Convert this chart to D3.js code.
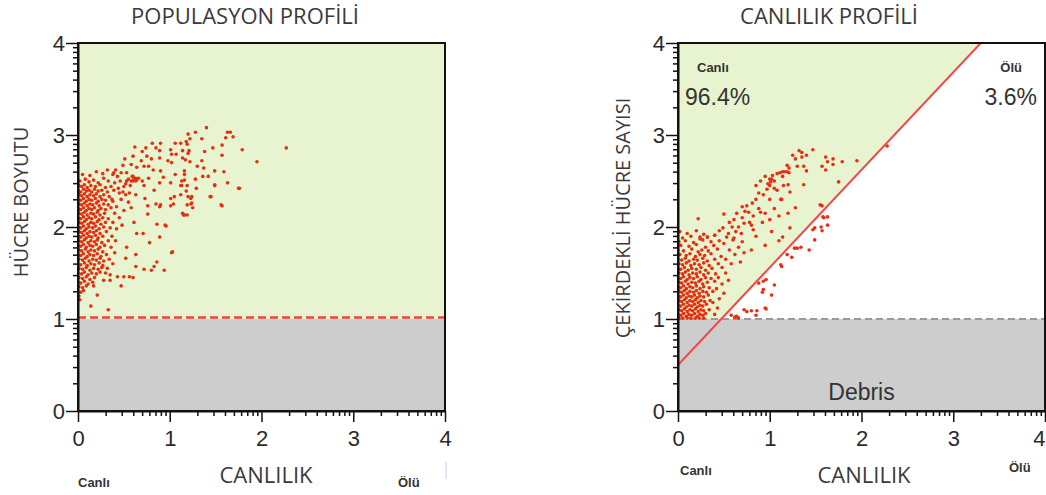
<!DOCTYPE html>
<html>
<head>
<meta charset="utf-8">
<script src="https://cdn.jsdelivr.net/npm/d3@7"></script>
<style>
  body { margin: 0; background: #fff; }
  svg text { font-family: "Liberation Sans", Arial, sans-serif; }
</style>
</head>
<body>
<svg id="chart" width="1046" height="495"></svg>
<script>
// ---- data ----
var tickVals = [0, 1, 2, 3, 4];
var minorSteps = [2, 3, 4, 5, 6, 7, 8, 9];   // log-decade minor ticks

var leftTitle = 'POPULASYON PROFİLİ';
var rightTitle = 'CANLILIK PROFİLİ';
var xLabel = 'CANLILIK';
var leftYLabel = 'HÜCRE BOYUTU';
var rightYLabel = 'ÇEKİRDEKLİ HÜCRE SAYISI';
var liveName = 'Canlı', deadName = 'Ölü';
var livePct = '96.4%', deadPct = '3.6%';
var debrisName = 'Debris';

var debrisCut = 1;                        // y gate (debris below)
var gateLine = [[0, 0.5], [3.3, 4]];      // live / dead gate

// left panel: dense core
var leftCore = [
  [0.05,2.57],[0.13,2.56],[0.20,2.60],[0.27,2.58],[0.32,2.62],[0.38,2.57],[0.43,2.55],
  [0.02,2.50],[0.08,2.52],[0.12,2.49],[0.17,2.51],[0.22,2.48],[0.28,2.53],[0.33,2.50],[0.40,2.48],[0.46,2.50],
  [0.01,2.45],[0.04,2.44],[0.07,2.46],[0.10,2.43],[0.14,2.45],[0.19,2.44],[0.24,2.46],[0.30,2.43],[0.36,2.44],
  [0.00,2.40],[0.03,2.38],[0.06,2.41],[0.09,2.39],[0.12,2.40],[0.15,2.38],[0.18,2.41],[0.22,2.39],[0.26,2.40],[0.32,2.38],[0.39,2.40],[0.45,2.37],
  [0.01,2.35],[0.04,2.34],[0.07,2.36],[0.10,2.33],[0.13,2.35],[0.17,2.34],[0.20,2.36],[0.24,2.33],[0.28,2.35],[0.34,2.33],
  [0.00,2.30],[0.03,2.29],[0.06,2.31],[0.09,2.28],[0.12,2.30],[0.15,2.29],[0.19,2.31],[0.22,2.28],[0.26,2.30],[0.30,2.29],[0.37,2.30],
  [0.01,2.25],[0.04,2.24],[0.07,2.26],[0.10,2.23],[0.13,2.25],[0.16,2.24],[0.20,2.26],[0.23,2.23],[0.28,2.25],[0.33,2.24],
  [0.00,2.20],[0.03,2.19],[0.06,2.21],[0.09,2.18],[0.12,2.20],[0.15,2.19],[0.18,2.21],[0.22,2.18],[0.25,2.20],[0.30,2.19],[0.36,2.21],
  [0.01,2.15],[0.04,2.14],[0.07,2.16],[0.10,2.13],[0.14,2.15],[0.17,2.14],[0.21,2.16],[0.24,2.13],[0.29,2.15],
  [0.00,2.10],[0.03,2.09],[0.06,2.11],[0.09,2.08],[0.12,2.10],[0.15,2.09],[0.19,2.11],[0.23,2.08],[0.27,2.10],[0.33,2.09],
  [0.01,2.05],[0.04,2.04],[0.07,2.06],[0.11,2.03],[0.14,2.05],[0.17,2.04],[0.21,2.06],[0.25,2.03],[0.30,2.05],
  [0.00,2.00],[0.03,1.99],[0.06,2.01],[0.09,1.98],[0.12,2.00],[0.16,1.99],[0.19,2.01],[0.23,1.98],[0.28,2.00],[0.35,1.99],
  [0.01,1.95],[0.04,1.94],[0.07,1.96],[0.10,1.93],[0.13,1.95],[0.17,1.94],[0.20,1.96],[0.24,1.93],[0.31,1.95],
  [0.00,1.90],[0.03,1.89],[0.06,1.91],[0.09,1.88],[0.12,1.90],[0.15,1.89],[0.19,1.91],[0.22,1.88],[0.27,1.90],
  [0.01,1.85],[0.04,1.84],[0.07,1.86],[0.11,1.83],[0.14,1.85],[0.18,1.84],[0.21,1.86],[0.26,1.83],[0.33,1.85],
  [0.00,1.80],[0.03,1.79],[0.06,1.81],[0.09,1.78],[0.13,1.80],[0.16,1.79],[0.20,1.81],[0.24,1.78],[0.29,1.80],
  [0.01,1.75],[0.04,1.74],[0.08,1.76],[0.11,1.73],[0.14,1.75],[0.18,1.74],[0.22,1.76],[0.27,1.73],
  [0.00,1.70],[0.03,1.69],[0.06,1.71],[0.10,1.68],[0.13,1.70],[0.17,1.69],[0.21,1.71],[0.25,1.68],[0.31,1.70],
  [0.01,1.65],[0.05,1.64],[0.08,1.66],[0.12,1.63],[0.16,1.65],[0.20,1.64],[0.24,1.66],[0.28,1.63],
  [0.00,1.60],[0.03,1.59],[0.07,1.61],[0.10,1.58],[0.14,1.60],[0.18,1.59],[0.23,1.61],[0.27,1.58],
  [0.01,1.55],[0.05,1.54],[0.09,1.56],[0.13,1.53],[0.17,1.55],[0.22,1.54],[0.26,1.56],
  [0.00,1.50],[0.04,1.49],[0.07,1.51],[0.11,1.48],[0.15,1.50],[0.20,1.49],[0.24,1.51],
  [0.01,1.45],[0.05,1.44],[0.09,1.46],[0.13,1.43],[0.18,1.45],
  [0.00,1.40],[0.03,1.39],[0.07,1.41],[0.11,1.38],[0.16,1.40],
  [0.01,1.35],[0.05,1.34],[0.09,1.36],
  [0.00,1.30],[0.03,1.29],[0.06,1.31],
  [0.01,1.25],[0.02,1.21]
];

// left panel: spread towards upper right
var leftSpread = [
  [1.40,3.08],[1.66,3.03],[1.69,2.98],[2.27,2.86],[1.95,2.71],[1.63,3.03],[1.61,2.97],[1.79,2.84],
  [1.57,2.89],[1.57,2.78],[1.47,2.86],[1.38,2.82],[1.35,2.96],[1.28,3.03],[1.20,3.01],[1.22,2.96],
  [1.18,2.93],[1.19,2.90],[1.21,2.83],[1.20,2.80],[1.14,2.75],[1.17,2.73],[1.22,2.71],[1.35,2.72],
  [1.30,2.66],[1.37,2.64],[1.49,2.61],[1.59,2.60],[1.16,2.57],[1.42,2.55],[1.28,2.52],[1.13,2.50],
  [1.63,2.48],[1.49,2.45],[1.13,2.45],[1.29,2.42],[1.76,2.42],[1.18,2.39],[1.45,2.33],[1.20,2.33],
  [1.23,2.25],[1.57,2.23],[1.25,2.21],[1.15,2.13],[1.19,2.13],
  [1.12,2.91],[1.06,2.91],[0.90,2.91],[0.81,2.91],[0.62,2.87],[0.74,2.86],[0.85,2.86],[1.01,2.84],
  [0.89,2.83],[0.70,2.82],[1.02,2.79],[1.07,2.79],[1.14,2.83],[0.60,2.77],[0.51,2.74],[0.75,2.77],
  [0.80,2.74],[0.89,2.75],[0.98,2.72],[1.02,2.70],[0.69,2.72],[0.58,2.68],[0.49,2.67],[0.64,2.65],
  [0.72,2.66],[0.77,2.66],[0.82,2.62],[0.41,2.62],[0.39,2.59],[0.47,2.59],[0.53,2.59],[0.59,2.55],
  [0.63,2.53],[0.60,2.50],[0.64,2.51],[0.70,2.50],[0.77,2.53],[0.90,2.61],[0.93,2.54],[1.06,2.57],
  [1.16,2.61],[1.16,2.51],[1.01,2.48],[1.12,2.45],[1.19,2.45],[1.05,2.33],[1.01,2.31],[0.72,2.45],
  [0.83,2.40],[0.89,2.48],[0.73,2.31],[0.76,2.23],[0.89,2.22],[1.01,2.23],[1.19,2.24],[1.23,2.31],
  [1.12,2.35],[0.58,2.21],[0.56,2.37],[0.63,2.35],[0.76,2.14],[0.85,2.25],[0.90,2.24],[1.04,2.25],
  [1.16,2.13],[0.86,2.03],[0.96,2.01],[0.61,2.05],[0.71,1.93],[0.64,1.93],[0.89,1.89],[0.78,1.83],
  [1.02,1.72],[0.53,1.78],[0.63,1.70],[0.52,1.66],[0.63,1.57],[0.86,1.62],[0.72,1.54],[0.80,1.53],
  [0.83,1.57],[0.94,1.53],[0.43,1.46],[0.50,1.46],[0.56,1.46],[0.60,1.45],[0.35,1.42],[0.28,1.42],
  [0.47,1.36],[0.17,1.36],[0.21,1.26],[0.14,1.14],[0.33,1.10],[1.03,1.73],[0.95,2.02],[1.14,2.15],
  [1.56,2.24],[1.44,2.33],[1.75,2.42],[1.49,2.46],[1.36,2.55],[1.24,2.26],[1.24,2.33],
  [0.38,2.28],[0.42,2.22],[0.47,2.30],[0.40,2.15],[0.45,2.10],[0.50,2.18],[0.38,2.05],[0.42,1.98],
  [0.48,2.02],[0.37,1.90],[0.41,1.85],[0.36,1.78],[0.40,1.72],[0.34,1.65],[0.38,1.60],[0.32,1.55],
  [0.30,1.50],[0.35,1.48],[0.52,2.35],[0.55,2.27],[0.44,2.42],[0.50,2.44],[0.53,2.50],[0.57,2.45],
  [0.49,2.38],[0.55,2.52],[0.58,2.50],[0.61,2.52],[0.60,2.55],[0.63,2.50],[0.66,2.53],[0.52,2.47]
];

// right panel: live cells (left of the gate)
var rightCore = [
  [0.02,1.95],[0.10,1.93],[0.20,1.96],[0.28,1.92],
  [0.05,1.88],[0.14,1.90],[0.24,1.87],[0.32,1.89],[0.40,1.91],
  [0.01,1.84],[0.08,1.85],[0.17,1.83],[0.27,1.86],[0.36,1.84],[0.45,1.85],
  [0.03,1.80],[0.12,1.79],[0.20,1.81],[0.30,1.78],[0.39,1.80],
  [0.00,1.75],[0.06,1.74],[0.15,1.76],[0.22,1.73],[0.26,1.75],[0.33,1.74],[0.43,1.76],
  [0.02,1.70],[0.09,1.69],[0.13,1.71],[0.19,1.68],[0.24,1.70],[0.29,1.69],[0.36,1.71],[0.47,1.68],
  [0.00,1.65],[0.04,1.64],[0.08,1.66],[0.12,1.63],[0.17,1.65],[0.21,1.64],[0.27,1.66],[0.32,1.63],[0.40,1.65],
  [0.01,1.60],[0.05,1.59],[0.09,1.61],[0.14,1.58],[0.18,1.60],[0.23,1.59],[0.28,1.61],[0.34,1.58],[0.44,1.60],
  [0.00,1.55],[0.03,1.54],[0.07,1.56],[0.11,1.53],[0.15,1.55],[0.20,1.54],[0.25,1.56],[0.30,1.53],[0.37,1.55],
  [0.01,1.50],[0.05,1.49],[0.08,1.51],[0.12,1.48],[0.16,1.50],[0.20,1.49],[0.24,1.51],[0.28,1.48],[0.33,1.50],[0.41,1.49],
  [0.00,1.45],[0.03,1.44],[0.06,1.46],[0.10,1.43],[0.13,1.45],[0.17,1.44],[0.21,1.46],[0.25,1.43],[0.30,1.45],[0.36,1.44],
  [0.01,1.40],[0.04,1.39],[0.08,1.41],[0.11,1.38],[0.15,1.40],[0.19,1.39],[0.23,1.41],[0.27,1.38],[0.32,1.40],[0.40,1.41],
  [0.00,1.35],[0.03,1.34],[0.06,1.36],[0.09,1.33],[0.13,1.35],[0.16,1.34],[0.20,1.36],[0.24,1.33],[0.28,1.35],[0.34,1.34],
  [0.01,1.30],[0.04,1.29],[0.07,1.31],[0.10,1.28],[0.13,1.30],[0.17,1.29],[0.20,1.31],[0.23,1.28],[0.27,1.30],[0.31,1.29],[0.38,1.30],
  [0.00,1.25],[0.03,1.24],[0.06,1.26],[0.09,1.23],[0.12,1.25],[0.15,1.24],[0.18,1.26],[0.21,1.23],[0.24,1.25],[0.28,1.24],[0.33,1.26],
  [0.01,1.20],[0.04,1.19],[0.07,1.21],[0.10,1.18],[0.13,1.20],[0.16,1.19],[0.19,1.21],[0.22,1.18],[0.25,1.20],[0.29,1.19],[0.35,1.20],
  [0.00,1.15],[0.03,1.14],[0.06,1.16],[0.09,1.13],[0.12,1.15],[0.15,1.14],[0.18,1.16],[0.21,1.13],[0.24,1.15],[0.27,1.14],[0.31,1.16],
  [0.01,1.10],[0.04,1.09],[0.07,1.11],[0.10,1.08],[0.13,1.10],[0.16,1.09],[0.19,1.11],[0.22,1.08],[0.25,1.10],[0.28,1.09],[0.34,1.10],
  [0.00,1.05],[0.03,1.04],[0.06,1.06],[0.09,1.03],[0.12,1.05],[0.15,1.04],[0.18,1.06],[0.21,1.03],[0.24,1.05],[0.27,1.04],[0.30,1.06],
  [0.01,1.01],[0.05,1.01],[0.10,1.01],[0.14,1.01],[0.19,1.01],[0.23,1.01],[0.28,1.01]
];

var rightLive = [
  [0.40,1.05],[0.43,1.12],[0.38,1.18],[0.45,1.22],[0.42,1.33],[0.48,1.38],[0.50,1.28],[0.44,1.45],
  [0.52,1.50],[0.55,1.42],[0.48,1.56],[0.58,1.60],[0.52,1.65],[0.62,1.70],[0.56,1.75],[0.66,1.78],
  [0.50,1.82],[0.60,1.86],[0.70,1.84],[0.55,1.93],[0.68,1.62],[0.72,1.72],
  [1.47,2.84],[1.35,2.81],[1.35,2.76],[1.28,2.74],[1.40,2.78],[1.61,2.76],[1.69,2.74],[1.63,2.71],
  [1.79,2.71],[1.95,2.72],[1.69,2.68],[1.57,2.66],[1.37,2.66],[1.30,2.66],[1.19,2.67],[1.21,2.64],
  [1.19,2.60],[1.14,2.60],[1.21,2.59],[1.40,2.61],[1.61,2.62],[1.14,2.55],[1.20,2.46],[1.37,2.46],
  [1.75,2.49],[1.13,2.30],[1.28,2.21],[1.57,2.23],[1.22,1.99],[1.14,1.89],[1.16,2.60],[1.11,2.59],
  [1.02,2.52],[1.01,2.49],[1.05,2.42],[1.00,2.45],[0.97,2.41],[1.12,2.30],[1.22,2.38],[0.88,2.37],
  [0.85,2.30],[0.81,2.26],[0.75,2.23],[0.70,2.22],[0.73,2.17],[0.77,2.16],[0.90,2.16],[0.64,2.15],
  [0.50,2.14],[0.22,2.09],[0.70,2.10],[0.61,2.08],[0.56,2.05],[0.72,2.04],[0.80,2.02],[0.66,2.00],
  [0.59,2.00],[0.49,1.99],[0.45,1.96],[0.82,1.97],[0.63,1.95],[0.69,1.93],[0.40,1.91],[0.32,1.89],
  [0.24,1.89],[0.53,1.89],[0.61,1.88],[1.55,2.24],[1.32,2.83],[1.25,2.78],
  [0.90,2.50],[0.95,2.55],[1.00,2.52],[1.03,2.56],[1.05,2.50],[0.98,2.47],[1.08,2.58],[0.85,2.45],
  [0.93,2.35],[1.00,2.30],[1.08,2.40],[1.15,2.45],[0.82,2.12],[0.88,2.20],[0.95,2.15],[1.05,2.20],
  [0.78,2.05],[0.92,2.05],[1.00,2.08],[0.85,1.90],[1.02,1.95],[0.95,1.80],[1.10,1.85],[0.80,1.75],
  [1.10,2.12],[1.20,2.15]
];

// right panel: dead cells (right of the gate)
var rightDead = [
  [0.72,1.10],[0.80,1.09],[0.92,1.29],[0.88,1.39],[1.05,1.37],[0.96,1.43],[1.02,1.26],[0.85,1.04],
  [1.12,1.59],[1.19,1.70],[1.24,1.67],[1.27,1.77],[1.34,1.78],[1.43,1.75],[0.95,1.12],[0.62,1.02],
  [0.64,1.03],[0.93,1.32],[1.13,1.57],[1.30,1.77],[1.49,1.86],[1.47,1.97],[1.56,2.00],[1.63,2.02],
  [1.59,2.10],[1.63,2.11],[0.96,1.11],[0.86,1.09],[0.75,1.08],[0.93,1.41],[1.58,2.11],[1.49,1.99],
  [1.57,1.96],[2.28,2.88],[0.58,1.04],[0.66,1.01]
];

// ---- layout ----
var width = 367, height = 368, top0 = 43;
var green = '#e8f3d0', grey = '#cdcdcd', dotColor = '#e4300f';
var textDark = '#333333';

var svg = d3.select('#chart');

var x = d3.scaleLinear().domain([0, 4]).range([0, width]);
var y = d3.scaleLinear().domain([0, 4]).range([height, 0]);

var minorVals = [];
tickVals.slice(0, 4).forEach(function(d) {
  minorSteps.forEach(function(k) { minorVals.push(d + Math.log10(k)); });
});

function drawAxes(g, panelLeft) {
  var xMinor = g.append('g').attr('transform', 'translate(0,' + height + ')')
    .call(d3.axisBottom(x).tickValues(minorVals).tickSize(5).tickSizeOuter(0).tickFormat(''));
  xMinor.select('.domain').remove();
  var yMinor = g.append('g')
    .call(d3.axisLeft(y).tickValues(minorVals).tickSize(5).tickSizeOuter(0).tickFormat(''));
  yMinor.select('.domain').remove();

  var xAxis = g.append('g').attr('transform', 'translate(0,' + height + ')')
    .call(d3.axisBottom(x).tickValues(tickVals).tickSize(11).tickPadding(8)
      .tickSizeOuter(0).tickFormat(d3.format('d')));
  var yAxis = g.append('g')
    .call(d3.axisLeft(y).tickValues(tickVals).tickSize(12).tickPadding(1)
      .tickSizeOuter(0).tickFormat(d3.format('d')));

  g.selectAll('.tick line').attr('stroke', '#111').attr('stroke-width', 1.5);
  [xAxis, yAxis].forEach(function(a) {
    a.select('.domain').attr('stroke', '#111').attr('stroke-width', 2);
    a.selectAll('text').style('font-size', '22px').attr('fill', '#2b2b2b');
  });

  // last x label would run past the page edge on the right panel
  if (panelLeft + width + 8 > 1046) {
    xAxis.selectAll('.tick text').filter(function(d) { return d === 4; })
      .attr('text-anchor', 'end').attr('x', 1045 - panelLeft - width);
  }

  // frame (top and right)
  g.append('rect')
    .attr('width', width).attr('height', height)
    .attr('fill', 'none').attr('stroke', '#111').attr('stroke-width', 2);
}

function drawDots(g, data, clipId) {
  g.append('g').attr('clip-path', 'url(#' + clipId + ')')
    .selectAll('circle').data(data).enter().append('circle')
    .attr('cx', function(d) { return x(d[0]); })
    .attr('cy', function(d) { return y(d[1]); })
    .attr('r', 1.8)
    .attr('fill', dotColor);
}

function addClip(id) {
  svg.append('clipPath').attr('id', id)
    .append('rect').attr('width', width).attr('height', height);
}

// ---- left panel ----
var gL = svg.append('g').attr('transform', 'translate(78,' + top0 + ')');
addClip('clipL');

gL.append('rect').attr('x', 0).attr('y', y(4))
  .attr('width', width).attr('height', y(debrisCut) - y(4)).attr('fill', green);
gL.append('rect').attr('x', 0).attr('y', y(debrisCut))
  .attr('width', width).attr('height', y(0) - y(debrisCut)).attr('fill', grey);

drawDots(gL, leftCore.concat(leftSpread), 'clipL');

gL.append('line')
  .attr('x1', 0).attr('x2', width)
  .attr('y1', y(debrisCut) - 1.5).attr('y2', y(debrisCut) - 1.5)
  .attr('stroke', '#ef4040').attr('stroke-width', 2.5).attr('stroke-dasharray', '8,4');

drawAxes(gL, 78);

// ---- right panel ----
var gR = svg.append('g').attr('transform', 'translate(678,' + top0 + ')');
addClip('clipR');

var slope = (gateLine[1][1] - gateLine[0][1]) / (gateLine[1][0] - gateLine[0][0]);
var gateAtCut = gateLine[0][0] + (debrisCut - gateLine[0][1]) / slope;

gR.append('rect').attr('width', width).attr('height', height).attr('fill', '#fff');
gR.append('path')
  .datum([[0, debrisCut], [gateAtCut, debrisCut], gateLine[1], [0, 4]])
  .attr('d', d3.line().x(function(d) { return x(d[0]); }).y(function(d) { return y(d[1]); }))
  .attr('fill', green);
gR.append('rect').attr('x', 0).attr('y', y(debrisCut))
  .attr('width', width).attr('height', y(0) - y(debrisCut)).attr('fill', grey);
gR.append('line')
  .attr('x1', 0).attr('x2', width)
  .attr('y1', y(debrisCut)).attr('y2', y(debrisCut))
  .attr('stroke', '#9a9a9a').attr('stroke-width', 2).attr('stroke-dasharray', '7,4');

drawDots(gR, rightCore.concat(rightLive, rightDead), 'clipR');

gR.append('line')
  .attr('clip-path', 'url(#clipR)')
  .attr('x1', x(gateLine[0][0])).attr('y1', y(gateLine[0][1]))
  .attr('x2', x(gateLine[1][0])).attr('y2', y(gateLine[1][1]))
  .attr('stroke', '#f04848').attr('stroke-width', 2);

gR.append('text').attr('x', 19).attr('y', 29).text(liveName)
  .style('font-size', '13px').style('font-weight', 'bold').attr('fill', textDark);
gR.append('text').attr('x', 7).attr('y', 62).text(livePct)
  .style('font-size', '23px').attr('fill', textDark);
gR.append('text').attr('x', 344).attr('y', 29).attr('text-anchor', 'end').text(deadName)
  .style('font-size', '13px').style('font-weight', 'bold').attr('fill', textDark);
gR.append('text').attr('x', 359).attr('y', 62).attr('text-anchor', 'end').text(deadPct)
  .style('font-size', '23px').attr('fill', textDark);
gR.append('text').attr('x', width / 2).attr('y', 357).attr('text-anchor', 'middle').text(debrisName)
  .style('font-size', '23px').attr('fill', textDark);

drawAxes(gR, 678);

// ---- titles and axis labels ----
function title(txt, cx, cy) {
  svg.append('text')
    .attr('x', cx).attr('y', cy).attr('text-anchor', 'middle')
    .style('font-family', '"Open Sans", sans-serif').style('font-size', '22px')
    .attr('fill', '#3a3a3a').text(txt);
}
title(leftTitle, 245, 24);
title(rightTitle, 829, 24);
title(xLabel, 266, 483);
title(xLabel, 864, 483);

function yTitle(txt, bx, cy) {
  svg.append('text')
    .attr('transform', 'translate(' + bx + ',' + cy + ') rotate(-90)')
    .attr('text-anchor', 'middle')
    .style('font-family', '"Open Sans", sans-serif').style('font-size', '20px')
    .attr('fill', '#3a3a3a').text(txt);
}
yTitle(leftYLabel, 28, 202);
yTitle(rightYLabel, 630, 218);

function smallLabel(txt, lx, ly) {
  svg.append('text').attr('x', lx).attr('y', ly).text(txt)
    .style('font-size', '13px').style('font-weight', 'bold').attr('fill', textDark);
}
smallLabel(liveName, 78, 487);
smallLabel(deadName, 398, 487);
smallLabel(liveName, 680, 475);
smallLabel(deadName, 1009, 472);

// faint marker right of the left x label row
svg.append('line').attr('x1', 446).attr('x2', 446).attr('y1', 462).attr('y2', 479)
  .attr('stroke', '#b9d3ee').attr('stroke-width', 1);
</script>
</body>
</html>
